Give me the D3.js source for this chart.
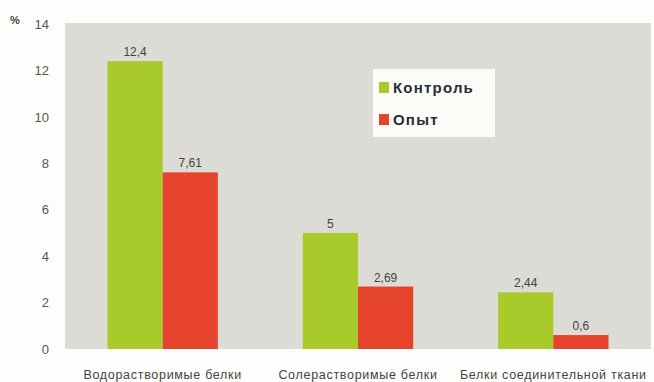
<!DOCTYPE html>
<html>
<head>
<meta charset="utf-8">
<script src="https://cdn.jsdelivr.net/npm/d3@7/dist/d3.min.js"></script>
<style>
  html, body { margin: 0; padding: 0; background: #fdfdfb; }
  svg { display: block; }
</style>
</head>
<body>
<svg id="chart" width="654" height="382"></svg>
<script>
// Protein fractions, % — control vs experiment
const categories = ["Водорастворимые белки", "Солерастворимые белки", "Белки соединительной ткани"];
const seriesNames = ["Контроль", "Опыт"];
const control = [12.4, 5, 2.44];
const experiment = [7.61, 2.69, 0.6];
const valueLabels = [["12,4", "5", "2,44"], ["7,61", "2,69", "0,6"]];
const yTicks = [0, 2, 4, 6, 8, 10, 12, 14];
const colors = ["#a9ca2b", "#e5432b"];

const svg = d3.select("#chart");
const plotLeft = 65, plotRight = 651, plotTop = 24, plotBottom = 349;

const x = d3.scaleBand().domain(categories).range([plotLeft, plotRight]).paddingInner(0.435).paddingOuter(0.2175);
const xs = d3.scaleBand().domain(seriesNames).range([0, x.bandwidth()]);
const y = d3.scaleLinear().domain([0, 14]).range([plotBottom, plotTop]);

// plot panel
svg.append("rect")
  .attr("x", plotLeft).attr("y", plotTop - 1)
  .attr("width", plotRight - plotLeft).attr("height", plotBottom - plotTop + 1)
  .attr("fill", "#dddbd5");

// y axis labels
const yAxis = d3.axisLeft(y).tickValues(yTicks).tickSize(0).tickPadding(16).tickFormat(d3.format("d"));
const yg = svg.append("g").attr("transform", `translate(${plotLeft},0)`).call(yAxis);
yg.select(".domain").remove();
yg.selectAll("text")
  .attr("font-family", "Liberation Sans, Arial, sans-serif")
  .attr("font-size", 13).attr("fill", "#555");

svg.append("text").attr("x", 10).attr("y", 24)
  .attr("font-family", "Liberation Sans, Arial, sans-serif")
  .attr("font-size", 11).attr("font-weight", "bold").attr("fill", "#444").text("%");

// bars
const data = [control, experiment];
data.forEach((vals, si) => {
  const g = svg.append("g");
  g.selectAll("rect").data(vals).join("rect")
    .attr("x", (d, i) => x(categories[i]) + xs(seriesNames[si]))
    .attr("y", d => y(d))
    .attr("width", xs.bandwidth())
    .attr("height", d => y(0) - y(d))
    .attr("fill", colors[si]);
  g.selectAll("text").data(vals).join("text")
    .attr("x", (d, i) => x(categories[i]) + xs(seriesNames[si]) + xs.bandwidth() / 2)
    .attr("y", d => y(d) - 5)
    .attr("text-anchor", "middle")
    .attr("font-family", "Liberation Sans, Arial, sans-serif")
    .attr("font-size", 12).attr("fill", "#444")
    .text((d, i) => valueLabels[si][i]);
});

// category labels
const xAxis = d3.axisBottom(x).tickSize(0).tickPadding(21);
const xg = svg.append("g").attr("transform", `translate(0,${plotBottom})`).call(xAxis);
xg.select(".domain").remove();
xg.selectAll("text")
  .attr("font-family", "Liberation Sans, Arial, sans-serif")
  .attr("font-size", 12.5).attr("letter-spacing", 0.7).attr("fill", "#444");

// legend
const lg = svg.append("g").attr("transform", "translate(373,69)");
lg.append("rect").attr("width", 122).attr("height", 68).attr("fill", "#fbfbf8");
seriesNames.forEach((name, i) => {
  lg.append("rect").attr("x", 6).attr("y", 13 + i * 32).attr("width", 10).attr("height", 11).attr("fill", colors[i]);
  lg.append("text").attr("x", 20).attr("y", 24 + i * 32)
    .attr("font-family", "Liberation Sans, Arial, sans-serif")
    .attr("font-size", 15).attr("font-weight", "bold").attr("letter-spacing", 1.2).attr("fill", "#2b2b3a")
    .text(name);
});
</script>
</body>
</html>
